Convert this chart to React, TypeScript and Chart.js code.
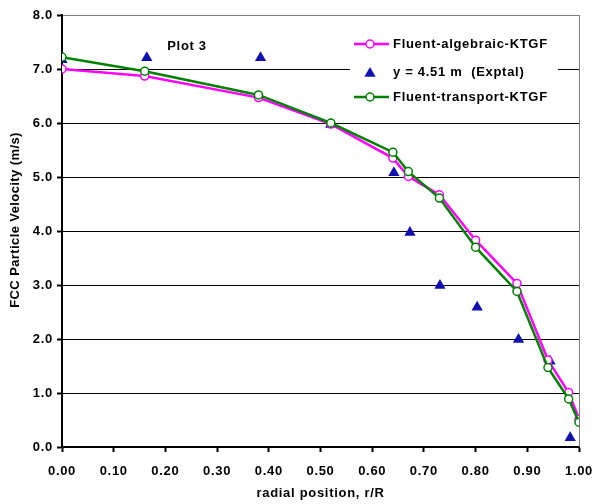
import React, { useEffect, useRef } from "react";
import { Chart, registerables } from "chart.js";

Chart.register(...registerables);

// radial position r/R for the simulation curves
const radialPos = [0, 0.16, 0.38, 0.52, 0.64, 0.67, 0.73, 0.8, 0.88, 0.94, 0.98, 1.0];
// Fluent-algebraic-KTGF velocities (m/s)
const algebraicKTGF = [7.0, 6.87, 6.47, 5.98, 5.35, 5.01, 4.67, 3.83, 3.03, 1.61, 1.01, 0.52];
// Fluent-transport-KTGF velocities (m/s)
const transportKTGF = [7.22, 6.96, 6.52, 6.0, 5.46, 5.1, 4.61, 3.7, 2.88, 1.47, 0.89, 0.46];
// Experimental, y = 4.51 m
const exptalPos = [0, 0.164, 0.384, 0.52, 0.642, 0.673, 0.731, 0.803, 0.883, 0.944, 0.983];
const exptalVel = [7.17, 7.21, 7.21, 5.97, 5.08, 3.97, 2.99, 2.59, 1.99, 1.59, 0.17];

const seriesNames = ["Fluent-algebraic-KTGF", "y = 4.51 m  (Exptal)", "Fluent-transport-KTGF"];
const plotLabel = "Plot 3";
const xTitle = "radial position, r/R";
const yTitle = "FCC Particle Velocity (m/s)";

const FONT = '"Liberation Sans", Arial, sans-serif';
const MAGENTA = "#FF00FF";
const GREEN = "#008000";
const BLUE = "#1010B0";

function drawTriangle(ctx: CanvasRenderingContext2D, x: number, y: number, r: number, color: string) {
  ctx.beginPath();
  ctx.moveTo(x, y - r);
  ctx.lineTo(x + r * Math.sin((2 * Math.PI) / 3), y - r * Math.cos((2 * Math.PI) / 3));
  ctx.lineTo(x + r * Math.sin((4 * Math.PI) / 3), y - r * Math.cos((4 * Math.PI) / 3));
  ctx.closePath();
  ctx.fillStyle = color;
  ctx.fill();
}

const decorPlugin = {
  id: "decor",
  beforeDraw(chart: any) {
    (chart.ctx as any).letterSpacing = "0.7px";
  },
  beforeDatasetsDraw(chart: any) {
    const { ctx, chartArea } = chart;
    ctx.save();
    ctx.strokeStyle = "#808080";
    ctx.lineWidth = 1;
    ctx.beginPath();
    ctx.moveTo(chartArea.right + 0.5, chartArea.top);
    ctx.lineTo(chartArea.right + 0.5, chartArea.bottom);
    ctx.stroke();
    ctx.restore();
  },
  afterDraw(chart: any) {
    const { ctx } = chart;
    ctx.save();
    ctx.letterSpacing = "0.7px";
    // plot label
    ctx.font = `bold 13px ${FONT}`;
    ctx.fillStyle = "#000";
    ctx.textAlign = "center";
    ctx.textBaseline = "middle";
    ctx.fillText(plotLabel, 187, 46);

    // y title
    ctx.save();
    ctx.letterSpacing = "0.4px";
    ctx.translate(15, 220);
    ctx.rotate(-Math.PI / 2);
    ctx.fillText(yTitle, 0, 0);
    ctx.restore();

    // legend box
    ctx.fillStyle = "#fff";
    ctx.fillRect(350, 31, 208, 80);
    const rows = [44, 72, 97];
    const colors = [MAGENTA, BLUE, GREEN];
    ctx.textAlign = "left";
    for (let i = 0; i < 3; i++) {
      const y = rows[i];
      if (i === 1) {
        drawTriangle(ctx, 370, y + 1.5, 6.5, BLUE);
      } else {
        ctx.strokeStyle = colors[i];
        ctx.lineWidth = 2.5;
        ctx.beginPath();
        ctx.moveTo(354, y);
        ctx.lineTo(389, y);
        ctx.stroke();
        ctx.beginPath();
        ctx.arc(370, y, 4, 0, Math.PI * 2);
        ctx.fillStyle = "#fff";
        ctx.fill();
        ctx.lineWidth = 1.5;
        ctx.stroke();
      }
      ctx.fillStyle = "#000";
      ctx.font = `bold 13px ${FONT}`;
      ctx.fillText(seriesNames[i], 393, y);
    }
    ctx.restore();
  },
};

export default function App() {
  const ref = useRef<HTMLCanvasElement>(null);
  useEffect(() => {
    if (!ref.current) return;
    const chart = new Chart(ref.current, {
      type: "scatter",
      data: {
        datasets: [
          {
            label: seriesNames[0],
            data: radialPos.map((x, i) => ({ x, y: algebraicKTGF[i] })),
            showLine: true,
            borderColor: MAGENTA,
            borderWidth: 2.5,
            pointRadius: 4,
            pointBorderWidth: 1.5,
            pointBackgroundColor: "#fff",
            pointBorderColor: MAGENTA,
            order: 2,
          },
          {
            label: seriesNames[1],
            data: exptalPos.map((x, i) => ({ x, y: exptalVel[i] })),
            showLine: false,
            pointStyle: "triangle",
            pointRadius: 6.5,
            pointBorderWidth: 0,
            pointBackgroundColor: BLUE,
            pointBorderColor: BLUE,
            order: 3,
          },
          {
            label: seriesNames[2],
            data: radialPos.map((x, i) => ({ x, y: transportKTGF[i] })),
            showLine: true,
            borderColor: GREEN,
            borderWidth: 2.5,
            pointRadius: 4,
            pointBorderWidth: 1.5,
            pointBackgroundColor: "#fff",
            pointBorderColor: GREEN,
            order: 1,
          },
        ],
      },
      options: {
        responsive: false,
        animation: false,
        layout: { padding: { left: 0, top: 15, right: 14, bottom: 0 } },
        plugins: { legend: { display: false }, tooltip: { enabled: false } },
        scales: {
          x: {
            type: "linear",
            min: 0,
            max: 1,
            afterFit: (s: any) => {
              s.height = 57;
              s.paddingLeft = 0;
              s.paddingRight = 0;
            },
            ticks: {
              stepSize: 0.1,
              padding: 12,
              color: "#000",
              font: { family: FONT, size: 13, weight: "bold" },
              callback: (v: any) => Number(v).toFixed(2),
              maxRotation: 0,
            },
            grid: {
              drawOnChartArea: false,
              drawTicks: true,
              tickLength: 5,
              tickColor: "#000",
              tickWidth: 2,
            },
            border: { display: true, color: "#000", width: 2 },
            title: {
              display: true,
              text: xTitle,
              color: "#000",
              font: { family: FONT, size: 13, weight: "bold" },
              padding: { top: 0, bottom: 3 },
            },
          },
          y: {
            type: "linear",
            min: 0,
            max: 8,
            afterFit: (s: any) => {
              s.width = 62;
              s.paddingTop = 0;
              s.paddingBottom = 0;
            },
            ticks: {
              stepSize: 1,
              padding: 4,
              color: "#000",
              font: { family: FONT, size: 13, weight: "bold" },
              callback: (v: any) => Number(v).toFixed(1),
            },
            grid: {
              color: (c: any) => (c.tick && c.tick.value === 8 ? "#808080" : "#000"),
              lineWidth: 1,
              drawTicks: true,
              tickLength: 5,
              tickColor: "#000",
              tickWidth: 2,
            },
            border: { display: true, color: "#000", width: 2 },
            title: { display: false },
          },
        },
      },
      plugins: [decorPlugin],
    } as any);
    return () => chart.destroy();
  }, []);
  return (
    <div style={{ position: "absolute", left: 0, top: 0, width: 593, height: 504 }}>
      <canvas ref={ref} width={593} height={504} />
    </div>
  );
}
